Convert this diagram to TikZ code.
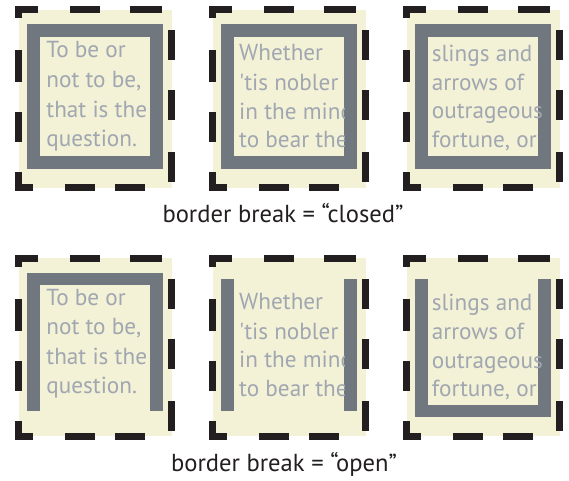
\documentclass[tikz,border=0pt]{standalone}
\usepackage{fontspec}
\newfontfamily\bodyfont{PT Sans}
\definecolor{cream}{RGB}{243,241,214}
\definecolor{framegray}{RGB}{112,119,126}
\definecolor{textgray}{RGB}{160,167,176}
\definecolor{dashink}{RGB}{35,31,32}
\tikzset{
  dashline/.style={draw=dashink, line width=6.7pt, line cap=butt, line join=miter},
  framepen/.style={draw=framegray, line width=12.3pt, line cap=butt, line join=miter},
  bodytext/.style={text=textgray, font=\bodyfont\fontsize{23.2}{26}\selectfont, inner sep=0pt, anchor=base west},
  caption/.style={text=dashink, font=\bodyfont\fontsize{24.6}{28}\selectfont, inner sep=0pt, anchor=base},
}
\newcommand\dashframe[2]{%
  \fill[cream] (#1,#2) rectangle ++(153,178);
  \draw[dashline] ({#1+19.5},#2) -- (#1,#2) -- (#1,{#2+8.8});
  \draw[dashline] ({#1+51.5},#2) -- ({#1+81.5},#2);
  \draw[dashline] ({#1+111.5},#2) -- ({#1+143.5},#2);
  \draw[dashline] ({#1+153},{#2+20.5}) -- ({#1+153},{#2+50.5});
  \draw[dashline] ({#1+153},{#2+80.5}) -- ({#1+153},{#2+110.5});
  \draw[dashline] ({#1+153},{#2+142.5}) -- ({#1+153},{#2+172.5});
  \draw[dashline] (#1,{#2+162.5}) -- (#1,{#2+178}) -- ({#1+14.5},{#2+178});
  \draw[dashline] ({#1+46.5},{#2+178}) -- ({#1+76.5},{#2+178});
  \draw[dashline] ({#1+96.5},{#2+178}) -- ({#1+126.5},{#2+178});
  \draw[dashline] (#1,{#2+40.5}) -- (#1,{#2+72.5});
  \draw[dashline] (#1,{#2+102.5}) -- (#1,{#2+132.5});
}
\begin{document}
\begin{tikzpicture}[x=1pt,y=-1pt]
\useasboundingbox (0,0) rectangle (569,480);
\fill[white] (0,0) rectangle (569,480);
% ---- top row: closed ----
\dashframe{18.5}{9.5}
\dashframe{212.5}{9.5}
\dashframe{406.5}{9.5}
\draw[framepen] (33.5,30.5) rectangle (156.5,162.5);
\draw[framepen] (227.5,30.5) rectangle (350.5,162.5);
\draw[framepen] (421.5,30.5) rectangle (544.5,162.5);
\node[bodytext] (a1) at (46.2,57.3) {To be or};
\node[bodytext] (a2) at (46.2,87) {not to be,};
\node[bodytext] (a3) at (46.2,117) {that is the};
\node[bodytext] (a4) at (46.2,146.7) {question.};
\begin{scope}
\clip (233,20) rectangle (344.3,180);
\node[bodytext] (b1) at (239,60.7) {Whether};
\node[bodytext] (b2) at (239,90.7) {'tis nobler};
\node[bodytext] (b3) at (239,119.3) {in the mind};
\node[bodytext] (b4) at (239,147.7) {to bear the};
\end{scope}
\node[bodytext] (c1) at (431.7,61) {slings and};
\node[bodytext] (c2) at (431.7,90.7) {arrows of};
\node[bodytext] (c3) at (431.7,118.3) {outrageous};
\node[bodytext] (c4) at (431.7,147.7) {fortune, or};
\node[caption] (cap1) at (283,222.3) {border break = “closed”};
% ---- bottom row: open ----
\dashframe{18.5}{258.3}
\dashframe{212.5}{258.3}
\dashframe{406.5}{258.3}
\draw[framepen] (33.5,411.3) -- (33.5,279.3) -- (156.5,279.3) -- (156.5,411.3);
\draw[framepen] (227.5,279.3) -- (227.5,411.3);
\draw[framepen] (350.5,279.3) -- (350.5,411.3);
\draw[framepen] (421.5,279.3) -- (421.5,411.3) -- (544.5,411.3) -- (544.5,279.3);
\node[bodytext] (d1) at (46.2,305) {To be or};
\node[bodytext] (d2) at (46.2,334.3) {not to be,};
\node[bodytext] (d3) at (46.2,364) {that is the};
\node[bodytext] (d4) at (46.2,393.3) {question.};
\begin{scope}
\clip (233,270) rectangle (344.3,430);
\node[bodytext] (e1) at (239,309) {Whether};
\node[bodytext] (e2) at (239,339) {'tis nobler};
\node[bodytext] (e3) at (239,367.7) {in the mind};
\node[bodytext] (e4) at (239,396.7) {to bear the};
\end{scope}
\node[bodytext] (f1) at (431.7,310) {slings and};
\node[bodytext] (f2) at (431.7,339.3) {arrows of};
\node[bodytext] (f3) at (431.7,368.3) {outrageous};
\node[bodytext] (f4) at (431.7,396.7) {fortune, or};
\node[caption] (cap2) at (284,471.7) {border break = “open”};
\end{tikzpicture}
\end{document}
